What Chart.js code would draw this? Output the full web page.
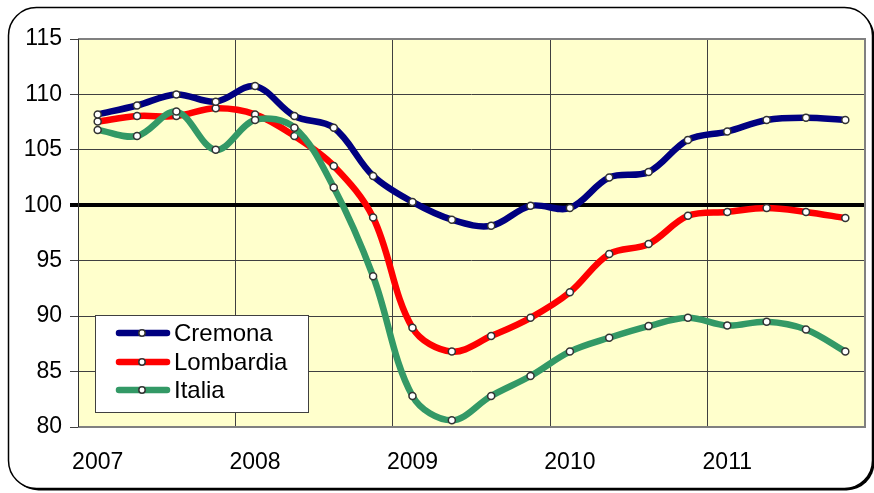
<!DOCTYPE html>
<html>
<head>
<meta charset="utf-8">
<script src="https://cdn.jsdelivr.net/npm/chart.js@4"></script>
<style>
  body { margin: 0; background: #fff; }
  canvas { display: block; }
</style>
</head>
<body>
<canvas id="chart" width="874" height="493"></canvas>
<script>
// quarterly index, 2007 Q1 .. 2011 Q4
const quarters = [
    '2007 T1', '2007 T2', '2007 T3', '2007 T4',
    '2008 T1', '2008 T2', '2008 T3', '2008 T4',
    '2009 T1', '2009 T2', '2009 T3', '2009 T4',
    '2010 T1', '2010 T2', '2010 T3', '2010 T4',
    '2011 T1', '2011 T2', '2011 T3', '2011 T4'
];
const yearLabels = ['2007', '2008', '2009', '2010', '2011'];

const cremona = [108.2, 109.0, 110.0, 109.35, 110.75, 108.05, 107.0, 102.65, 100.3, 98.7,
                 98.15, 99.95, 99.75, 102.5, 103.0, 105.9, 106.65, 107.7, 107.9, 107.7];
const lombardia = [107.55, 108.05, 108.05, 108.75, 108.2, 106.25, 103.55, 98.9, 88.95, 86.8,
                   88.2, 89.85, 92.15, 95.6, 96.5, 99.05, 99.4, 99.75, 99.4, 98.85];
const italia = [106.8, 106.25, 108.45, 105.0, 107.7, 107.0, 101.6, 93.6, 82.8, 80.6,
                82.8, 84.6, 86.8, 88.05, 89.1, 89.85, 89.15, 89.5, 88.8, 86.8];

const seriesNames = ['Cremona', 'Lombardia', 'Italia'];
const seriesColors = ['#000080', '#ff0000', '#339966'];

const FONT = 'Liberation Sans';

function roundRectPath(ctx, x, y, w, h, r)
{
    ctx.beginPath();
    ctx.moveTo(x + r, y);
    ctx.lineTo(x + w - r, y);
    ctx.arcTo(x + w, y, x + w, y + r, r);
    ctx.lineTo(x + w, y + h - r);
    ctx.arcTo(x + w, y + h, x + w - r, y + h, r);
    ctx.lineTo(x + r, y + h);
    ctx.arcTo(x, y + h, x, y + h - r, r);
    ctx.lineTo(x, y + r);
    ctx.arcTo(x, y, x + r, y, r);
    ctx.closePath();
}

//frame, plot background, plot border and legend box
const decorations = {
    id: 'decorations',
    beforeDraw(chart) {
        const ctx = chart.ctx;
        const a = chart.chartArea;
        ctx.save();
        roundRectPath(ctx, 10.5, 9.5, 864, 481, 28);
        ctx.fillStyle = '#000';
        ctx.fill();
        roundRectPath(ctx, 8.5, 7.5, 864, 481, 28);
        ctx.fillStyle = '#fff';
        ctx.fill();
        ctx.lineWidth = 1.5;
        ctx.strokeStyle = '#000';
        ctx.stroke();
        ctx.fillStyle = '#ffffcc';
        ctx.fillRect(a.left, a.top, a.right - a.left, a.bottom - a.top);
        ctx.restore();
    },
    beforeDatasetsDraw(chart) {
        const ctx = chart.ctx;
        const a = chart.chartArea;
        ctx.save();
        ctx.strokeStyle = '#808080';
        ctx.lineWidth = 2;
        ctx.beginPath();
        ctx.moveTo(a.left, a.top);
        ctx.lineTo(a.right, a.top);
        ctx.lineTo(a.right, a.bottom);
        ctx.lineTo(a.left, a.bottom);
        ctx.stroke();
        ctx.strokeStyle = '#333';
        ctx.lineWidth = 1;
        ctx.beginPath();
        ctx.moveTo(a.left + 0.5, a.top);
        ctx.lineTo(a.left + 0.5, a.bottom);
        ctx.stroke();
        ctx.restore();
    },
    afterDraw(chart) {
        const ctx = chart.ctx;
        ctx.save();
        ctx.fillStyle = '#fff';
        ctx.fillRect(95.5, 315.5, 213, 97);
        ctx.strokeStyle = '#404040';
        ctx.lineWidth = 1;
        ctx.strokeRect(95.5, 315.5, 213, 97);
        const rows = [333, 362, 390];
        ctx.font = '24px "' + FONT + '"';
        ctx.textBaseline = 'middle';
        seriesNames.forEach((name, i) => {
            const y = rows[i];
            ctx.strokeStyle = seriesColors[i];
            ctx.lineWidth = 6.5;
            ctx.lineCap = 'round';
            ctx.beginPath();
            ctx.moveTo(119, y);
            ctx.lineTo(167, y);
            ctx.stroke();
            ctx.beginPath();
            ctx.arc(142, y, 3.2, 0, Math.PI * 2);
            ctx.fillStyle = '#fff';
            ctx.fill();
            ctx.lineWidth = 1.5;
            ctx.strokeStyle = '#333';
            ctx.stroke();
            ctx.fillStyle = '#000';
            ctx.fillText(name, 174, y + 1);
        });
        ctx.restore();
    }
};

function makeDataset(index, values, order)
{
    return {
        label: seriesNames[index],
        data: values,
        order: order,
        borderColor: seriesColors[index],
        backgroundColor: seriesColors[index],
        borderWidth: 6.5,
        borderCapStyle: 'round',
        borderJoinStyle: 'round',
        tension: 0.35,
        pointRadius: 3.5,
        pointBorderWidth: 1.5,
        pointBorderColor: '#333',
        pointBackgroundColor: '#fff',
        fill: false
    };
}

new Chart(document.getElementById('chart'), {
    type: 'line',
    data: {
        labels: quarters,
        datasets: [
            makeDataset(0, cremona, 0),
            makeDataset(1, lombardia, 2),
            makeDataset(2, italia, 1)
        ]
    },
    options: {
        responsive: false,
        animation: false,
        layout: { padding: { left: 0, top: 39, right: 9, bottom: 0 } },
        plugins: {
            legend: { display: false },
            tooltip: { enabled: false },
            title: { display: false }
        },
        scales: {
            x: {
                type: 'category',
                offset: true,
                afterFit(scale) { scale.height = 66; },
                grid: {
                    offset: true,
                    drawTicks: false,
                    color: (ctx) => (ctx.index % 4 === 0 && ctx.index > 0 && ctx.index < quarters.length) ? '#404040' : 'rgba(0,0,0,0)',
                    lineWidth: 1
                },
                border: { display: false },
                ticks: {
                    autoSkip: false,
                    maxRotation: 0,
                    padding: 22,
                    color: '#000',
                    font: { family: FONT, size: 23 },
                    callback: (value, index) => index % 4 === 0 ? yearLabels[index / 4] : ''
                }
            },
            y: {
                min: 80,
                max: 115,
                afterFit(scale) { scale.width = 78; },
                grid: {
                    tickLength: 8,
                    color: (ctx) => ctx.tick && ctx.tick.value === 100 ? '#000' : '#404040',
                    lineWidth: (ctx) => ctx.tick && ctx.tick.value === 100 ? 4 : 1
                },
                border: { display: false },
                ticks: {
                    stepSize: 5,
                    padding: 8,
                    color: '#000',
                    font: { family: FONT, size: 23 }
                }
            }
        }
    },
    plugins: [decorations]
});
</script>
</body>
</html>
